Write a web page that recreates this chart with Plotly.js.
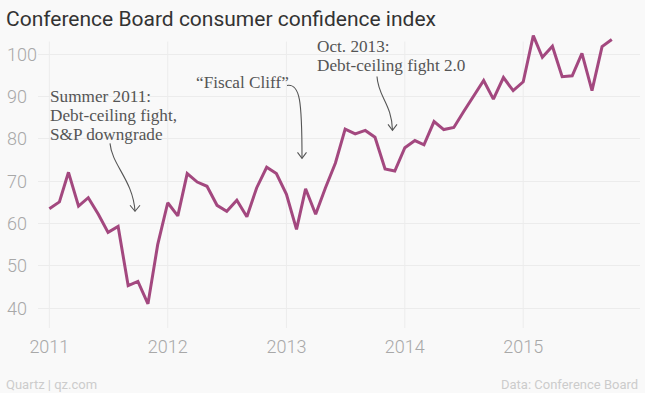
<!DOCTYPE html>
<html><head><meta charset="utf-8">
<script src="https://cdn.plot.ly/plotly-3.0.1.min.js"></script>
<style>html,body{margin:0;padding:0;background:#f9f9f9}</style>
</head><body><div id="chart" style="width:645px;height:393px"></div>
<script>
// ---- data ----
const monthsLabels = ['01','02','03','04','05','06','07','08','09','10','11','12'];
const years = [2011, 2012, 2013, 2014, 2015];
const values2011 = [63.5, 65.1, 72.1, 64.1, 66.1, 62.2, 57.9, 59.3, 45.3, 46.3, 41.0, 55.0];
const values2012 = [64.9, 61.8, 71.8, 69.8, 68.8, 64.3, 62.9, 65.5, 61.6, 68.4, 73.3, 71.8];
const values2013 = [66.9, 58.6, 68.2, 62.2, 68.4, 74.3, 82.3, 81.2, 82.0, 80.4, 72.9, 72.4];
const values2014 = [77.9, 79.6, 78.6, 84.1, 82.2, 82.7, 86.4, 90.2, 93.8, 89.4, 94.5, 91.4];
const values2015 = [93.5, 104.4, 99.3, 101.9, 94.7, 94.9, 100.2, 91.4, 101.8, 103.5];
const yTickVals = [40, 50, 60, 70, 80, 90, 100];
const xTickVals = ['2011-01-01', '2012-01-01', '2013-01-01', '2014-01-01', '2015-01-01'];
const xTickText = ['2011', '2012', '2013', '2014', '2015'];

const allValues = [values2011, values2012, values2013, values2014, values2015];
const dates = [], vals = [];
allValues.forEach((arr, i) => arr.forEach((v, m) => { dates.push(years[i] + '-' + monthsLabels[m] + '-01'); vals.push(v); }));

// ---- layout helpers ----
const W = 645, H = 393, M = {l: 38, r: 5, t: 30.5, b: 65.1};
const PW = W - M.l - M.r, PH = H - M.t - M.b;
const px = x => (x - M.l) / PW;
const py = y => 1 - (y - M.t) / PH;
function path(cmds) {
  return cmds.map(c => c[0] + ' ' + c.slice(1).reduce((acc, v, i) => {
    if (i % 2 === 0) acc.push(px(v).toFixed(5)); else acc[acc.length - 1] += ',' + py(v).toFixed(5);
    return acc;
  }, []).join(' ')).join(' ');
}

const serif = {family: 'Liberation Serif, serif', size: 17.2, color: '#555555'};
const tickFont = {family: 'Roboto, sans-serif', size: 18, color: '#a8a8a8', weight: 300};
const footFont = {family: 'Roboto, sans-serif', size: 13, color: '#cccccc'};
const textLines = [
  ['Summer 2011:', 49, 96],
  ['Debt-ceiling fight,', 49, 115],
  ['S&amp;P downgrade', 49, 134],
  ['\u201cFiscal Cliff\u201d', 195, 82],
  ['Oct. 2013:', 316, 46],
  ['Debt-ceiling fight 2.0', 316, 65]
];

const annotations = [];
textLines.forEach(t => annotations.push({
  text: t[0], xref: 'paper', yref: 'paper', x: px(t[1]), y: py(t[2]),
  xanchor: 'left', yanchor: 'middle', showarrow: false, font: serif, borderpad: 0
}));
yTickVals.forEach(v => annotations.push({
  text: String(v), xref: 'paper', yref: 'y', x: px(5), y: v,
  xanchor: 'left', yanchor: 'middle', showarrow: false, font: tickFont
}));
annotations.push({
  text: 'Conference Board consumer confidence index', xref: 'paper', yref: 'paper',
  x: px(4), y: py(18), xanchor: 'left', yanchor: 'middle', showarrow: false,
  font: {family: 'Roboto, sans-serif', size: 21, color: '#333333'}
});
annotations.push({
  text: 'Quartz | qz.com', xref: 'paper', yref: 'paper', x: px(5), y: py(392.5),
  xanchor: 'left', yanchor: 'bottom', showarrow: false, font: footFont, borderpad: 0
});
annotations.push({
  text: 'Data: Conference Board', xref: 'paper', yref: 'paper', x: px(639), y: py(392.5),
  xanchor: 'right', yanchor: 'bottom', showarrow: false, font: footFont, borderpad: 0
});

const arrowLine = {color: '#555555', width: 1.1};
const shapes = [];
xTickVals.forEach(d => shapes.push({
  type: 'line', xref: 'x', yref: 'y', x0: d, x1: d, y0: 35.3, y1: 103.0,
  line: {color: '#ececec', width: 1}, layer: 'below'
}));
[
  [['M', 110, 143], ['C', 112, 165, 133, 180, 135, 211]],
  [['M', 130, 205], ['L', 135, 211], ['L', 140, 205]],
  [['M', 287, 85], ['C', 300, 83, 302, 100, 302, 158]],
  [['M', 297.5, 152], ['L', 302, 158], ['L', 306.5, 152]],
  [['M', 377, 76], ['C', 378, 96, 392, 104, 392.5, 130]],
  [['M', 388, 124], ['L', 392.5, 130], ['L', 397, 124]]
].forEach(p => shapes.push({type: 'path', xref: 'paper', yref: 'paper', path: path(p), line: arrowLine}));

const trace = {
  x: dates, y: vals, type: 'scatter', mode: 'lines',
  line: {color: '#a3487f', width: 3, shape: 'linear'}, hoverinfo: 'skip'
};

const layout = {
  width: W, height: H, margin: M,
  paper_bgcolor: '#f9f9f9', plot_bgcolor: '#f9f9f9',
  showlegend: false,
  xaxis: {
    type: 'date', range: ['2010-11-27', '2015-12-27'],
    tickvals: xTickVals, ticktext: xTickText, tickfont: tickFont,
    showgrid: false, zeroline: false, showline: false,
    ticks: 'outside', ticklen: 2, tickcolor: 'rgba(0,0,0,0)'
  },
  yaxis: {
    range: [35.3, 105.5], tickvals: yTickVals, showticklabels: false,
    showgrid: true, gridcolor: '#ececec', gridwidth: 1, zeroline: false, showline: false
  },
  annotations: annotations,
  shapes: shapes
};

Plotly.newPlot('chart', [trace], layout, {staticPlot: true, displayModeBar: false});
</script>
</body></html>
